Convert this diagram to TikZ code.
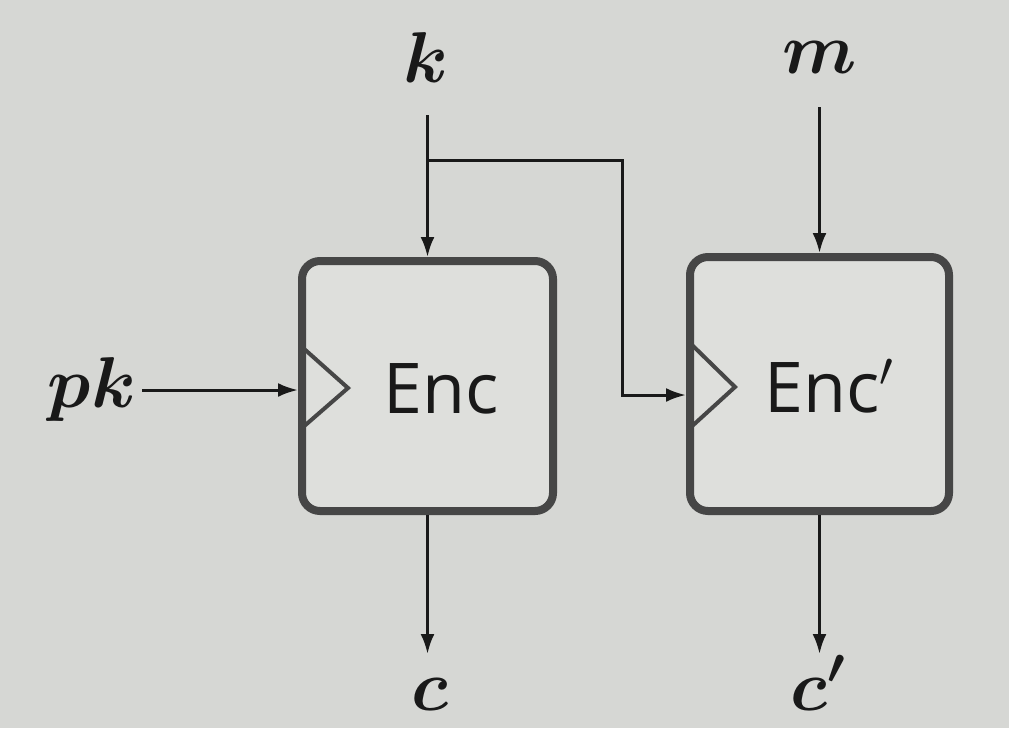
\RequirePackage{fix-cm}
\documentclass[tikz,border=0pt]{standalone}
\usepackage{fontspec}
\setsansfont{Open Sans}
\usetikzlibrary{arrows.meta,calc}
\definecolor{pagebg}{RGB}{214,215,212}
\definecolor{boxfill}{RGB}{222,223,220}
\definecolor{blkline}{RGB}{70,70,70}
\definecolor{ink}{RGB}{25,25,25}
\begin{document}
\begin{tikzpicture}[x=1pt,y=-1pt,
  blk/.style={draw=blkline, line width=8pt, rounded corners=18pt, fill=boxfill, inner sep=0pt},
  lbl/.style={font=\fontsize{72}{80}\selectfont\boldmath, text=ink, inner sep=0pt, anchor=base},
  enc/.style={font=\sffamily\fontsize{70}{80}\selectfont, text=ink, inner sep=0pt, anchor=base},
  wire/.style={draw=ink, line width=3pt, -{Latex[length=20pt,width=14pt]}},
  plain/.style={draw=ink, line width=3pt},
  tri/.style={draw=blkline, line width=4pt, line join=miter}]
\fill[pagebg] (0,0) rectangle (1009,728);
\useasboundingbox (0,0) rectangle (1009,728);

% blocks
\node[blk, minimum width=251pt, minimum height=250pt] (e1) at (427.5,386) {};
\node[blk, minimum width=259pt, minimum height=254pt] (e2) at (819.5,384) {};

% clock-like triangles
\draw[tri] ($(e1.west)+(4,-39)$) -- ($(e1.west)+(50,2)$) -- ($(e1.west)+(4,42)$);
\draw[tri] ($(e2.west)+(4,-41)$) -- ($(e2.west)+(49,3)$) -- ($(e2.west)+(4,44)$);

% block texts
\node[enc] (t1) at (441,413) {Enc};
\node[enc] (t2) at (829,412) {Enc$'$};

% labels
\node[lbl] (k) at (426,82) {$k$};
\node[lbl] (m) at (820,73) {$m$};
\node[lbl] (pk) at (92,407) {$pk$};
\node[lbl] (c) at (430,710) {$c$};
\node[lbl] (cp) at (818,710) {$c'$};

% coordinates for free ends
\coordinate (kstart) at (427.5,115);
\coordinate (kbr) at (427.5,160);
\coordinate (kturn) at (622,160);
\coordinate (mstart) at (819.5,107);
\coordinate (pkstart) at (142,390);
\coordinate (cend) at (427.5,654);
\coordinate (cpend) at (819.5,654);

% connectors
\draw[wire] (kstart) -- (e1.north);
\draw[wire] (kbr) -- (kturn) |- ($(e2.west)+(0,11)$);
\draw[wire] (mstart) -- (e2.north);
\draw[wire] (pkstart) -- ($(e1.west)+(0,4)$);
\draw[wire] (e1.south) -- (cend);
\draw[wire] (e2.south) -- (cpend);
\end{tikzpicture}
\end{document}
